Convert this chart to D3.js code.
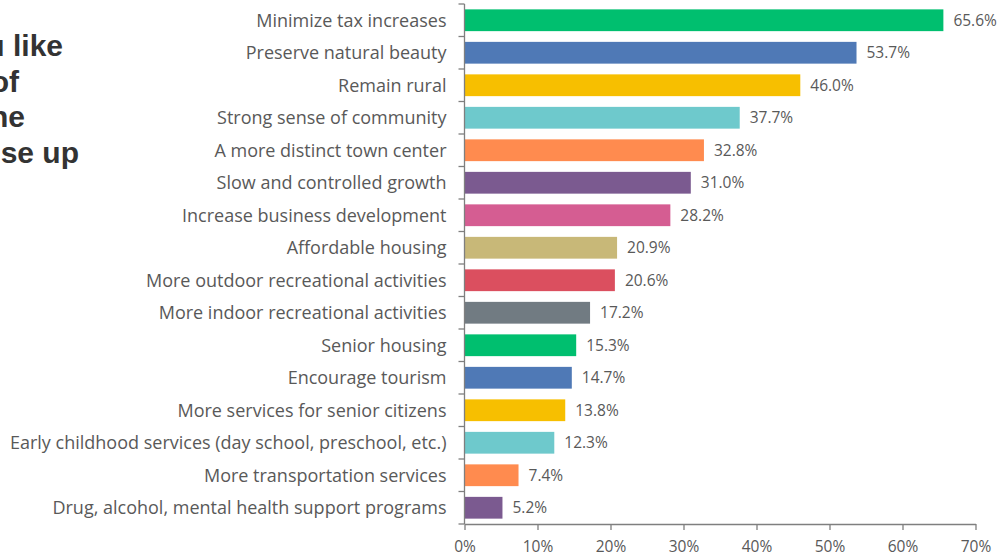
<!DOCTYPE html>
<html>
<head>
<meta charset="utf-8">
<script src="https://cdn.jsdelivr.net/npm/d3@7"></script>
<style>
  html, body { margin: 0; padding: 0; background: #fff; }
  svg { display: block; }
  .cat text { font-family: "Open Sans", sans-serif; fill: #595959; }
</style>
</head>
<body>
<svg id="chart" width="1000" height="556"></svg>
<script>
// Survey priorities, share of respondents
const categories = [
  "Minimize tax increases",
  "Preserve natural beauty",
  "Remain rural",
  "Strong sense of community",
  "A more distinct town center",
  "Slow and controlled growth",
  "Increase business development",
  "Affordable housing",
  "More outdoor recreational activities",
  "More indoor recreational activities",
  "Senior housing",
  "Encourage tourism",
  "More services for senior citizens",
  "Early childhood services (day school, preschool, etc.)",
  "More transportation services",
  "Drug, alcohol, mental health support programs"
];
const values = [65.6, 53.7, 46.0, 37.7, 32.8, 31.0, 28.2, 20.9, 20.6, 17.2, 15.3, 14.7, 13.8, 12.3, 7.4, 5.2];
const barColors = [
  "#00bf6f", "#4f79b6", "#f7bf00", "#6ec9cc", "#ff8b4f", "#7b5a90",
  "#d55d92", "#c8b878", "#db4f5f", "#717b82", "#00bf6f", "#4f79b6",
  "#f7bf00", "#6ec9cc", "#ff8b4f", "#7b5a90"
];
const xTicks = [0, 10, 20, 30, 40, 50, 60, 70];
// Heading lines running off the left edge
const headingLines = ["u like", "of", "he", "se up"];

const svg = d3.select("#chart");
const x0 = 464.5, x1 = 975.5, yTop = 4, yBottom = 524;

const x = d3.scaleLinear().domain([0, 70]).range([x0, x1]);
const y = d3.scaleBand().domain(categories).range([yTop, yBottom]).paddingInner(0.33).paddingOuter(0.165);

// Heading
const heading = svg.append("g")
  .attr("font-family", "Liberation Sans, Arial, sans-serif")
  .attr("font-weight", "bold")
  .attr("font-size", 30)
  .attr("fill", "#333333")
  .attr("text-anchor", "end");
const headingEnds = [63, 19, 25, 79];
heading.selectAll("text").data(headingLines).join("text")
  .attr("x", (d, i) => headingEnds[i])
  .attr("y", (d, i) => 56 + i * 35.5)
  .text(d => d);

// Bars
svg.append("g").selectAll("rect").data(categories).join("rect")
  .attr("x", x(0))
  .attr("y", d => y(d))
  .attr("width", (d, i) => x(values[i]) - x(0))
  .attr("height", y.bandwidth())
  .attr("fill", (d, i) => barColors[i]);

// Value labels
svg.append("g").selectAll("text").data(categories).join("text")
  .attr("x", (d, i) => x(values[i]) + 10)
  .attr("y", d => y(d) + y.bandwidth() / 2)
  .attr("dy", "0.35em")
  .attr("font-family", "Open Sans, sans-serif")
  .attr("font-size", 15.5)
  .attr("fill", "#595959")
  .text((d, i) => values[i].toFixed(1) + "%");

// Category axis: ticks sit on band boundaries
const yAxisG = svg.append("g").attr("class", "cat");
yAxisG.append("line")
  .attr("x1", x0).attr("x2", x0)
  .attr("y1", yTop).attr("y2", yBottom)
  .attr("stroke", "#7f7f7f").attr("stroke-width", 1.3);
yAxisG.selectAll("line.tk").data(d3.range(categories.length + 1)).join("line")
  .attr("class", "tk")
  .attr("x1", x0 - 6).attr("x2", x0)
  .attr("y1", i => yTop + i * (yBottom - yTop) / categories.length)
  .attr("y2", i => yTop + i * (yBottom - yTop) / categories.length)
  .attr("stroke", "#7f7f7f").attr("stroke-width", 1.3);
yAxisG.selectAll("text").data(categories).join("text")
  .attr("x", x0 - 18)
  .attr("y", d => y(d) + y.bandwidth() / 2)
  .attr("dy", "0.35em")
  .attr("text-anchor", "end")
  .attr("font-size", 18)
  .text(d => d);

// Value axis
const xAxis = d3.axisBottom(x).tickValues(xTicks).tickSize(6).tickSizeOuter(0)
  .tickFormat(d => d + "%");
const xg = svg.append("g").attr("transform", `translate(0,${yBottom})`).call(xAxis);
xg.select(".domain").attr("stroke", "#7f7f7f").attr("stroke-width", 1.3);
xg.selectAll(".tick line").attr("stroke", "#7f7f7f").attr("stroke-width", 1.3);
xg.selectAll(".tick text")
  .attr("y", 17)
  .attr("font-family", "Open Sans, sans-serif")
  .attr("font-size", 15.5)
  .attr("fill", "#595959");
</script>
</body>
</html>
